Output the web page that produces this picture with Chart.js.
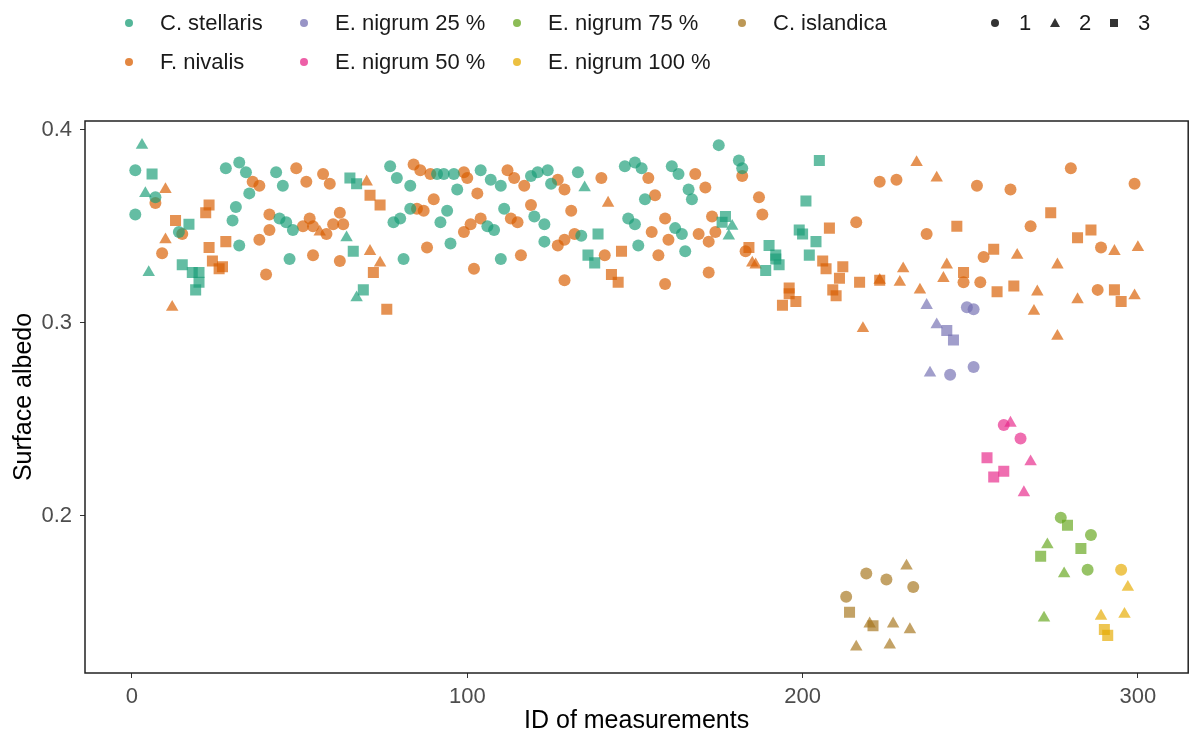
<!DOCTYPE html>
<html>
<head>
<meta charset="utf-8">
<title>Surface albedo</title>
<script src="https://cdn.jsdelivr.net/npm/chart.js@4.4.1/dist/chart.umd.min.js"></script>
<style>
  body { margin: 0; background: #fff; }
  #wrap { position: relative; width: 1196px; height: 742px; font-family: "Liberation Sans", Arial, sans-serif; }
  #legend { position: absolute; left: 0; top: 0; width: 1196px; height: 90px; }
  .dot { position: absolute; width: 8px; height: 8px; border-radius: 50%; }
  .sq { position: absolute; width: 8px; height: 8px; background: #333; }
  .tri { position: absolute; width: 0; height: 0; border-left: 5px solid transparent; border-right: 5px solid transparent; border-bottom: 9px solid #333; }
  .lab { position: absolute; font-size: 22px; color: #1a1a1a; transform: translateY(-50%); white-space: nowrap; }
  canvas { position: absolute; left: 0; top: 0; }
</style>
</head>
<body>
<div id="wrap">
  <canvas id="chart" width="1196" height="742"></canvas>
  <div id="legend"></div>
</div>
<script>
// species and colours (Dark2)
const speciesNames = ["C. stellaris", "F. nivalis", "E. nigrum 25 %", "E. nigrum 50 %", "E. nigrum 75 %", "E. nigrum 100 %", "C. islandica"];
const speciesColors = ["27,158,119", "217,95,2", "117,112,179", "231,41,138", "102,166,30", "230,171,2", "166,118,29"];
const shapeNames = ["1", "2", "3"];

const xTicks = [0, 100, 200, 300];
const yTicks = [0.2, 0.3, 0.4];

// [ID, albedo] per species and shape (1 circle, 2 triangle, 3 square)
const stellaris1 = [[1,0.379],[1,0.356],[7,0.365],[14,0.347],[28,0.380],[32,0.383],[34,0.378],[35,0.367],[31,0.360],[30,0.353],[32,0.340],[43,0.378],[45,0.371],[44,0.354],[46,0.352],[48,0.348],[47,0.333],[77,0.381],[79,0.375],[83,0.371],[91,0.377],[93,0.377],[96,0.377],[97,0.369],[104,0.379],[107,0.374],[110,0.371],[119,0.376],[121,0.378],[124,0.379],[125,0.372],[133,0.378],[147,0.381],[150,0.383],[152,0.380],[153,0.364],[78,0.352],[80,0.354],[83,0.359],[94,0.358],[92,0.352],[81,0.333],[95,0.341],[106,0.350],[108,0.348],[110,0.333],[111,0.359],[120,0.355],[123,0.351],[123,0.342],[134,0.345],[148,0.354],[150,0.351],[151,0.340],[161,0.381],[163,0.377],[175,0.392],[181,0.384],[182,0.380],[166,0.369],[167,0.364],[162,0.349],[164,0.346],[165,0.337]];
const stellaris2 = [[3,0.392],[4,0.367],[5,0.326],[64,0.344],[67,0.313],[135,0.370],[179,0.350],[178,0.345]];
const stellaris3 = [[6,0.377],[17,0.351],[15,0.330],[18,0.326],[20,0.326],[20,0.321],[19,0.317],[65,0.375],[67,0.372],[66,0.337],[69,0.317],[139,0.346],[136,0.335],[138,0.331],[176,0.352],[177,0.355],[190,0.340],[192,0.335],[193,0.330],[189,0.327],[192,0.333],[205,0.384],[201,0.363],[199,0.348],[200,0.346],[204,0.342],[202,0.335]];

const nivalis1 = [[7,0.362],[15,0.346],[9,0.336],[36,0.373],[38,0.371],[38,0.343],[41,0.356],[41,0.348],[40,0.325],[49,0.380],[52,0.373],[54,0.335],[51,0.350],[53,0.354],[54,0.350],[58,0.346],[60,0.351],[62,0.357],[63,0.351],[57,0.377],[59,0.372],[62,0.332],[84,0.382],[86,0.379],[89,0.377],[99,0.378],[100,0.375],[112,0.379],[114,0.375],[117,0.371],[127,0.374],[129,0.369],[140,0.375],[90,0.364],[103,0.367],[85,0.359],[87,0.358],[88,0.339],[99,0.347],[101,0.351],[104,0.354],[102,0.328],[113,0.354],[115,0.352],[116,0.335],[119,0.361],[127,0.340],[129,0.343],[132,0.346],[131,0.358],[129,0.322],[141,0.335],[154,0.375],[156,0.366],[168,0.377],[171,0.370],[182,0.376],[159,0.354],[155,0.347],[160,0.343],[157,0.335],[159,0.320],[169,0.346],[172,0.342],[174,0.347],[173,0.355],[172,0.326],[187,0.365],[188,0.356],[183,0.337],[216,0.352],[223,0.373],[228,0.374],[252,0.371],[262,0.369],[280,0.380],[299,0.372],[237,0.346],[268,0.350],[289,0.339],[254,0.334],[248,0.321],[253,0.321],[288,0.317]];
const nivalis2 = [[10,0.369],[10,0.343],[12,0.308],[56,0.347],[71,0.337],[70,0.373],[74,0.331],[142,0.362],[185,0.331],[186,0.330],[223,0.322],[229,0.321],[230,0.328],[218,0.297],[234,0.383],[240,0.375],[293,0.337],[300,0.339],[264,0.335],[276,0.330],[243,0.330],[242,0.323],[270,0.316],[269,0.306],[235,0.317],[276,0.293],[282,0.312],[299,0.314]];
const nivalis3 = [[13,0.353],[22,0.357],[23,0.361],[23,0.339],[28,0.342],[24,0.332],[26,0.328],[27,0.329],[71,0.366],[72,0.326],[74,0.361],[76,0.307],[146,0.337],[143,0.325],[145,0.321],[184,0.339],[208,0.349],[206,0.332],[207,0.328],[212,0.329],[211,0.323],[209,0.317],[210,0.314],[217,0.321],[223,0.322],[196,0.318],[196,0.315],[194,0.309],[198,0.311],[246,0.350],[274,0.357],[282,0.344],[286,0.348],[257,0.338],[248,0.326],[258,0.316],[263,0.319],[293,0.317],[295,0.311]];

const nigrum25_1 = [[249,0.308],[251,0.307],[244,0.273],[251,0.277]];
const nigrum25_2 = [[237,0.309],[240,0.299],[238,0.274]];
const nigrum25_3 = [[243,0.296],[245,0.291]];

const nigrum50_1 = [[260,0.247],[265,0.240]];
const nigrum50_2 = [[262,0.248],[268,0.228],[266,0.212]];
const nigrum50_3 = [[255,0.230],[257,0.220],[260,0.223]];

const nigrum75_1 = [[277,0.199],[286,0.190],[285,0.172]];
const nigrum75_2 = [[273,0.185],[278,0.170],[272,0.147]];
const nigrum75_3 = [[279,0.195],[283,0.183],[271,0.179]];

const nigrum100_1 = [[295,0.172]];
const nigrum100_2 = [[297,0.163],[289,0.148],[296,0.149]];
const nigrum100_3 = [[290,0.141],[291,0.138]];

const islandica1 = [[219,0.170],[225,0.167],[233,0.163],[213,0.158]];
const islandica2 = [[231,0.174],[220,0.144],[227,0.144],[232,0.141],[216,0.132],[226,0.133]];
const islandica3 = [[214,0.150],[221,0.143]];

const series = [
  [stellaris1, stellaris2, stellaris3],
  [nivalis1, nivalis2, nivalis3],
  [nigrum25_1, nigrum25_2, nigrum25_3],
  [nigrum50_1, nigrum50_2, nigrum50_3],
  [nigrum75_1, nigrum75_2, nigrum75_3],
  [nigrum100_1, nigrum100_2, nigrum100_3],
  [islandica1, islandica2, islandica3]
];

const pointStyles = ["circle", "triangle", "rect"];
const pointSizes = [6, 7.2, 7.8];

const datasets = [];
series.forEach((groups, i) => {
  groups.forEach((pts, j) => {
    datasets.push({
      label: speciesNames[i] + " " + shapeNames[j],
      data: pts.map(p => ({ x: p[0], y: p[1] })),
      pointStyle: pointStyles[j],
      pointRadius: pointSizes[j],
      backgroundColor: "rgba(" + speciesColors[i] + ",0.68)",
      borderWidth: 0
    });
  });
});

const framePlugin = {
  id: "frame",
  afterDraw(chart) {
    const { ctx, chartArea: a } = chart;
    ctx.save();
    ctx.strokeStyle = "#222";
    ctx.lineWidth = 1.5;
    ctx.strokeRect(a.left, a.top, a.right - a.left, a.bottom - a.top);
    ctx.restore();
  }
};

Chart.defaults.font.family = '"Liberation Sans", Arial, sans-serif';

new Chart(document.getElementById("chart"), {
  type: "scatter",
  data: { datasets },
  options: {
    responsive: false,
    animation: false,
    events: [],
    layout: { padding: { top: 121, right: 2, left: 0, bottom: 0 } },
    plugins: { legend: { display: false }, tooltip: { enabled: false } },
    scales: {
      x: {
        type: "linear",
        min: -14,
        max: 315,
        afterBuildTicks: s => { s.ticks = xTicks.map(v => ({ value: v })); },
        afterFit: s => { s.height = 69; },
        grid: { drawOnChartArea: false, drawTicks: true, tickLength: 5, color: "#333" },
        border: { display: false },
        ticks: { color: "#4d4d4d", font: { size: 22 }, padding: 6, maxRotation: 0 },
        title: { display: true, text: "ID of measurements", color: "#000", font: { size: 25 }, padding: { top: 0, bottom: 6 } }
      },
      y: {
        type: "linear",
        min: 0.1185,
        max: 0.4045,
        afterBuildTicks: s => { s.ticks = yTicks.map(v => ({ value: v })); },
        afterFit: s => { s.width = 85; },
        grid: { drawOnChartArea: false, drawTicks: true, tickLength: 5, color: "#333" },
        border: { display: false },
        ticks: { color: "#4d4d4d", font: { size: 22 }, padding: 8, callback: v => v.toFixed(1) },
        title: { display: true, text: "Surface albedo", color: "#000", font: { size: 25 }, padding: { top: 9, bottom: 0 } }
      }
    }
  },
  plugins: [framePlugin]
});

// legend (colour keys + shape keys)
const legend = document.getElementById("legend");
function addText(x, y, text) {
  const s = document.createElement("span");
  s.className = "lab";
  s.style.left = x + "px";
  s.style.top = y + "px";
  s.textContent = text;
  legend.appendChild(s);
}
function addKey(cls, x, y, color) {
  const d = document.createElement("div");
  d.className = cls;
  d.style.left = (x - 4) + "px";
  d.style.top = (y - 4) + "px";
  if (cls === "dot") d.style.background = color;
  if (cls === "tri") { d.style.left = (x - 5) + "px"; d.style.top = (y - 5) + "px"; }
  legend.appendChild(d);
}
const colX = [129, 129, 304, 304, 517, 517, 742];
const rowY = [23, 62, 23, 62, 23, 62, 23];
speciesNames.forEach((name, i) => {
  addKey("dot", colX[i], rowY[i], "rgba(" + speciesColors[i] + ",0.75)");
  addText(colX[i] + 31, rowY[i], name);
});
const shapeX = [995, 1055, 1114];
["dot", "tri", "sq"].forEach((cls, j) => {
  addKey(cls, shapeX[j], 23, "#333");
  addText(shapeX[j] + 24, 23, shapeNames[j]);
});
</script>
</body>
</html>
